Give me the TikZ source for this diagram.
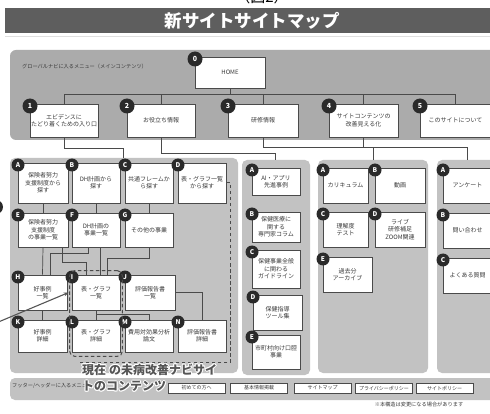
\documentclass[tikz,border=0pt]{standalone}
\usepackage{fontspec}
\setmainfont{Noto Sans CJK JP}
\usepackage{contour}
\contourlength{1pt}
\contournumber{8}
\usetikzlibrary{arrows.meta,fit}
\definecolor{titlebar}{HTML}{5E5E5E}
\definecolor{navpanel}{HTML}{ABABAB}
\definecolor{grppanel}{HTML}{C2C2C2}
\definecolor{linegray}{HTML}{4A4A4A}
\definecolor{badgedark}{HTML}{2A2A2A}
\definecolor{txtgray}{HTML}{3A3A3A}
\definecolor{ovgray}{HTML}{555555}
\newcommand{\mkbox}[8][badge]{%
  \node[box, minimum width={#5-#3}, minimum height={#6-#4}] (#2) at ({(#3+#5)/2},{(#4+#6)/2}) {#8};
  \node[#1] (#2b) at (#3,#4+2) {#7};}
\begin{document}
\begin{tikzpicture}[x=1pt,y=-1pt,
  panel/.style={fill=grppanel, rounded corners=5pt},
  box/.style={draw=linegray, fill=white, line width=0.7pt, align=center, inner sep=1pt, text=txtgray, font=\fontsize{6}{7.4}\selectfont},
  badge/.style={circle, fill=badgedark, text=white, inner sep=0pt, minimum size=13pt, font=\bfseries\fontsize{6.5}{7}\selectfont},
  bigbadge/.style={badge, minimum size=15pt, font=\bfseries\fontsize{7}{8}\selectfont},
  conn/.style={draw=linegray, line width=0.7pt},
  dashline/.style={draw=linegray, line width=1pt, dash pattern=on 3.5pt off 2.5pt},
  fbox/.style={draw=linegray, fill=white, line width=0.6pt, inner sep=0pt, text=txtgray, font=\fontsize{5}{6}\selectfont, minimum height=10pt, minimum width=57pt},
  small/.style={text=txtgray, font=\fontsize{5.2}{6}\selectfont, inner sep=0pt},
  overlay/.style={text=ovgray, font=\bfseries\fontsize{12}{13}\selectfont, inner sep=0pt, anchor=west},
  arr/.style={draw=ovgray, line width=1.1pt, -{Stealth[length=5pt,width=4pt]}}
]
\useasboundingbox (0,0) rectangle (490,414);
\fill[white] (0,0) rectangle (490,414);

% heading
\node[font=\fontsize{15}{16}\selectfont, text=black, anchor=base, inner sep=0pt] (fig) at (262,3) {（図2）};
\fill[titlebar] (5,8) rectangle (490,33);
\node[text=white, font=\bfseries\fontsize{17.5}{18}\selectfont] (title) at (252,21) {新サイトサイトマップ};
\draw[gray!25, line width=0.4pt] (5,36) -- (490,36);

% panels
\fill[navpanel, rounded corners=6pt] (10,50) rectangle (500,140);
\fill[panel] (10,158) rectangle (238,373);
\fill[panel] (242,160) rectangle (310,375);
\fill[panel] (318,160) rectangle (428,373);
\fill[panel] (437,160) rectangle (500,373);
\fill[panel] (10,378) rectangle (500,400);
\fill[badgedark] (-4,207) circle (7);

\node[small, anchor=west] (navlabel) at (22,67) {グローバルナビに入るメニュー（メインコンテンツ）};

% level 0 / 1
\mkbox[bigbadge]{home}{195}{57}{265}{88}{0}{HOME}
\mkbox[bigbadge]{t1}{30}{104}{98}{137}{1}{エビデンスに\\たどり着くための入り口}
\mkbox[bigbadge]{t2}{127}{104}{195}{137}{2}{お役立ち情報}
\mkbox[bigbadge]{t3}{228}{104}{298}{137}{3}{研修情報}
\mkbox[bigbadge]{t4}{329}{104}{398}{137}{4}{サイトコンテンツの\\改善見える化}
\mkbox[bigbadge]{t5}{420}{104}{491}{137}{5}{このサイトについて}

\draw[conn] (home.south) -- ++(0,7);
\draw[conn] (t1.north) -- ++(0,-9) -| (t5.north);
\foreach \n in {t2,t3,t4} \draw[conn] (\n.north) -- ++(0,-9);

\coordinate (g1top) at (123,158);
\coordinate (g2top) at (275,160);
\coordinate (g3top) at (373,160);
\coordinate (g4top) at (467,160);
\draw[conn] (t1.south) -- ++(0,11) -| (g1top);
\draw[conn] (t2.south) -- ++(0,16) -| (g2top);
\draw[conn] (t3.south) -- ++(0,10) -| (g3top);
\draw[conn] (t4.south) -- ++(0,10) -| (g4top);

% group 1
\mkbox{a1}{18}{163}{68}{203}{A}{保険者努力\\支援制度から\\探す}
\mkbox{b1}{72}{163}{120}{203}{B}{DH計画から\\探す}
\mkbox{c1}{125}{163}{173}{203}{C}{共通フレームか\\ら探す}
\mkbox{d1}{178}{163}{226}{203}{D}{表・グラフ一覧\\から探す}
\mkbox{e1}{18}{213}{68}{247}{E}{保険者努力\\支援制度\\の事業一覧}
\mkbox{f1}{72}{213}{120}{247}{F}{DH計画の\\事業一覧}
\mkbox{g1}{125}{213}{173}{247}{G}{その他の事業}
\mkbox{h1}{18}{275}{67}{310}{H}{好事例\\一覧}
\mkbox{i1}{72}{275}{120}{310}{I}{表・グラフ\\一覧}
\mkbox{j1}{125}{275}{175}{310}{J}{評価報告書\\一覧}
\mkbox{k1}{18}{320}{67}{352}{K}{好事例\\詳細}
\mkbox{l1}{72}{320}{120}{352}{L}{表・グラフ\\詳細}
\mkbox{m1}{125}{320}{173}{352}{M}{費用対効果分析\\論文}
\mkbox{n1}{178}{320}{226}{352}{N}{評価報告書\\詳細}

\draw[conn] (a1.south) -- (e1.north);
\draw[conn] (b1.south) -- (f1.north);
\draw[conn] (c1.south) -- (g1.north);
\draw[conn] (e1.south) -- (h1.north);
\draw[conn] ([xshift=-8pt]f1.south) -- ++(0,6) -| ([xshift=8pt]h1.north);
\draw[conn] ([xshift=4pt]f1.south) -- ([xshift=4pt]i1.north);
\draw[conn] (g1.south) -- ++(0,11) -| ([xshift=11pt]i1.north);
\draw[conn] ([xshift=19pt]e1.south) -- ++(0,15) -| ([xshift=-10pt]i1.north);
\draw[conn] (h1.south) -- (k1.north);
\draw[conn] (i1.south) -- (l1.north);
\draw[conn] (i1.south) -- ++(0,4) -| (m1.north);
\draw[conn] (j1.east) -| (n1.north);

% group 2
\mkbox{a2}{252}{168}{300}{195}{A}{AI・アプリ\\先進事例}
\mkbox{b2}{252}{212}{300}{242}{B}{保健医療に\\関する\\専門家コラム}
\mkbox{c2}{252}{250}{300}{288}{C}{保健事業全般\\に関わる\\ガイドライン}
\mkbox{d2}{253}{295}{302}{330}{D}{保健指導\\ツール集}
\mkbox{e2}{252}{335}{300}{369}{E}{市町村向け口腔\\事業}

% group 3
\mkbox{a3}{323}{168}{368}{203}{A}{カリキュラム}
\mkbox{b3}{375}{168}{425}{203}{B}{動画}
\mkbox{c3}{323}{212}{368}{247}{C}{理解度\\テスト}
\mkbox{d3}{375}{212}{425}{247}{D}{ライブ\\研修補足\\ZOOM関連}
\mkbox{e3}{323}{257}{372}{292}{E}{過去分\\アーカイブ}

% group 4
\mkbox{a4}{443}{168}{492}{203}{A}{アンケート}
\mkbox{b4}{443}{213}{492}{248}{B}{問い合わせ}
\mkbox{c4}{443}{258}{492}{293}{C}{よくある質問}

% dashed marks
\node[dashline, rounded corners=5pt, fit=(i1)(l1), inner xsep=2pt, inner ysep=4pt] (ilbox) {};
\coordinate (dashend) at (80,362);
\draw[dashline] (d1.east) -- ++(4,0) |- (dashend);

% arrow
\coordinate (arrstart) at (-4,323);
\draw[arr] (arrstart) -- ([xshift=-3pt]i1.west);

% footer
\node[small, anchor=west] (footlabel) at (12,386) {フッター/ヘッダーに入るメニュー};
\node[fbox] (f1b) at (196.5,388) {初めての方へ};
\node[fbox] (f2b) at (259,388) {基本情報掲載};
\node[fbox] (f3b) at (322.5,388) {サイトマップ};
\node[fbox] (f4b) at (384,388) {プライバシーポリシー};
\node[fbox] (f5b) at (444.5,388) {サイトポリシー};
\node[small] (note) at (419,405) {※本構造は変更になる場合があります};

% overlay text
\node[overlay] (ov1) at (82,370) {\contour{white}{現在\hspace{3pt}の未病改善ナビサイ}};
\node[overlay] (ov2) at (82,387) {\contour{white}{トのコンテンツ}};
\end{tikzpicture}
\end{document}
